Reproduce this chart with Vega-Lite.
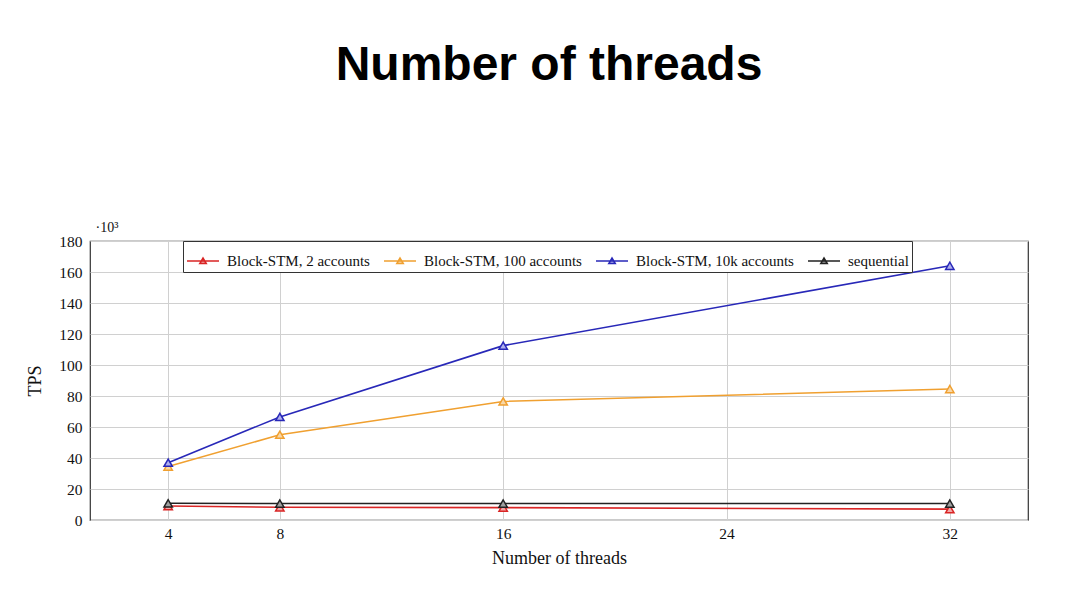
{
  "$schema": "https://vega.github.io/schema/vega-lite/v6.json",
  "autosize": {"type": "none"},
  "padding": {"left": 90, "top": 241, "right": 52, "bottom": 88},
  "width": 938,
  "height": 279,
  "background": "white",
  "title": {
    "text": "Number of threads",
    "font": "Liberation Sans",
    "fontWeight": "bold",
    "fontSize": 48,
    "color": "#000000",
    "anchor": "middle",
    "dx": -10,
    "offset": 130
  },
  "config": {
    "view": {"stroke": "#333333", "strokeWidth": 1.2},
    "axis": {
      "labelFont": "Liberation Serif",
      "titleFont": "Liberation Serif",
      "labelFontSize": 15.5,
      "titleFontSize": 18,
      "titleFontWeight": "normal",
      "labelColor": "#111111",
      "titleColor": "#111111",
      "gridColor": "#d0d0d0",
      "gridWidth": 1,
      "ticks": false,
      "domain": false
    }
  },
  "data": {
    "values": [
      {"threads": 4, "tps": 9, "series": "Block-STM, 2 accounts"},
      {"threads": 8, "tps": 8.2, "series": "Block-STM, 2 accounts"},
      {"threads": 16, "tps": 8, "series": "Block-STM, 2 accounts"},
      {"threads": 32, "tps": 7, "series": "Block-STM, 2 accounts"},
      {"threads": 4, "tps": 34.5, "series": "Block-STM, 100 accounts"},
      {"threads": 8, "tps": 55, "series": "Block-STM, 100 accounts"},
      {"threads": 16, "tps": 76.5, "series": "Block-STM, 100 accounts"},
      {"threads": 32, "tps": 84.5, "series": "Block-STM, 100 accounts"},
      {"threads": 4, "tps": 37, "series": "Block-STM, 10k accounts"},
      {"threads": 8, "tps": 66.5, "series": "Block-STM, 10k accounts"},
      {"threads": 16, "tps": 112.5, "series": "Block-STM, 10k accounts"},
      {"threads": 32, "tps": 164, "series": "Block-STM, 10k accounts"},
      {"threads": 4, "tps": 10.8, "series": "sequential"},
      {"threads": 8, "tps": 10.6, "series": "sequential"},
      {"threads": 16, "tps": 10.6, "series": "sequential"},
      {"threads": 32, "tps": 10.6, "series": "sequential"}
    ]
  },
  "encoding": {
    "y": {
      "field": "tps",
      "type": "quantitative",
      "scale": {"domain": [0, 180], "nice": false},
      "axis": {
        "values": [0, 20, 40, 60, 80, 100, 120, 140, 160, 180],
        "title": "TPS",
        "labelPadding": 8,
        "titlePadding": 14
      }
    }
  },
  "layer": [
    {
      "mark": {"type": "line", "strokeWidth": 1.6},
      "encoding": {
        "x": {
          "field": "threads",
          "type": "quantitative",
          "scale": {"domain": [1.2, 34.8], "nice": false, "zero": false},
          "axis": {
            "orient": "bottom",
            "values": [4, 8, 16, 24, 32],
            "title": "Number of threads",
            "labelPadding": 6,
            "titlePadding": 8
          }
        },
        "color": {
          "field": "series",
          "type": "nominal",
          "scale": {
            "domain": ["Block-STM, 2 accounts", "Block-STM, 100 accounts", "Block-STM, 10k accounts", "sequential"],
            "range": ["#d92525", "#f0a030", "#2828b8", "#222222"]
          },
          "legend": {
            "title": null,
            "orient": "none",
            "legendX": 93,
            "legendY": 0,
            "direction": "horizontal",
            "columns": 4,
            "columnPadding": 10,
            "labelFont": "Liberation Serif",
            "labelFontSize": 15,
            "labelColor": "#111111",
            "labelOffset": 7,
            "symbolType": "M-1,0L1,0M-0.2,0.16L0,-0.18L0.2,0.16Z",
            "symbolSize": 1024,
            "symbolStrokeWidth": 1.6,
            "symbolFillColor": "#f6d0c8",
            "strokeColor": "#333333",
            "fillColor": "white",
            "padding": 3,
            "cornerRadius": 0
          }
        }
      }
    },
    {
      "mark": {"type": "point", "shape": "triangle-up", "size": 70, "strokeWidth": 1.5, "filled": false, "opacity": 1},
      "encoding": {
        "x": {"field": "threads", "type": "quantitative", "axis": null},
        "color": {"field": "series", "type": "nominal"},
        "fill": {
          "field": "series",
          "type": "nominal",
          "scale": {
            "domain": ["Block-STM, 2 accounts", "Block-STM, 100 accounts", "Block-STM, 10k accounts", "sequential"],
            "range": ["#f2a8a8", "#f8d8a8", "#b0b0ee", "#a0a0a0"]
          },
          "legend": null
        }
      }
    },
    {
      "mark": {"type": "point", "opacity": 0},
      "encoding": {
        "x": {
          "field": "threads",
          "type": "quantitative",
          "axis": {
            "orient": "top",
            "title": "·10³",
            "titleAngle": 0,
            "titleFont": "Liberation Serif",
            "titleFontSize": 14,
            "titleAnchor": "start",
            "titleX": 5,
            "titleY": -7,
            "labels": false,
            "grid": false,
            "ticks": false,
            "domain": false
          }
        }
      }
    }
  ],
  "resolve": {"axis": {"x": "independent"}}
}
